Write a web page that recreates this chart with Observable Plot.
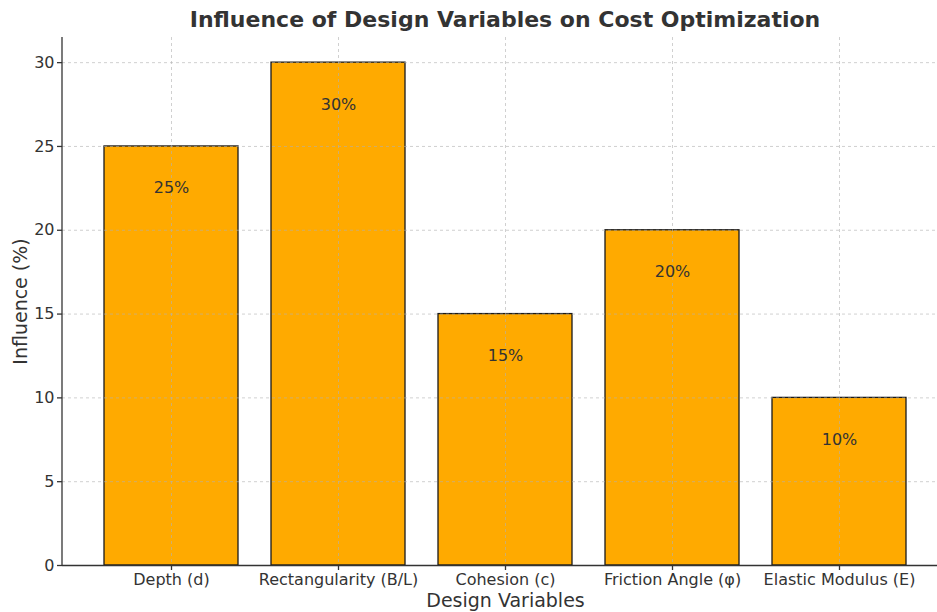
<!DOCTYPE html>
<html>
<head>
<meta charset="utf-8">
<script src="https://cdn.jsdelivr.net/npm/d3@7"></script>
<script src="https://cdn.jsdelivr.net/npm/@observablehq/plot@0.6"></script>
<style>
  html, body { margin: 0; padding: 0; background: #fff; }
  #title { width: 937px; height: 30px; position: relative; font-family: "DejaVu Sans", sans-serif; }
  #title span { position: absolute; left: 0; width: 1010px; text-align: center; top: 9px; font-weight: bold; font-size: 22px; color: #333; white-space: nowrap; line-height: 1; }
  #chart svg { display: block; }
</style>
</head>
<body>
<div id="title"><span>Influence of Design Variables on Cost Optimization</span></div>
<div id="chart"></div>
<script>
const categories = ["Depth (d)", "Rectangularity (B/L)", "Cohesion (c)", "Friction Angle (φ)", "Elastic Modulus (E)"];
const values = [25, 30, 15, 20, 10];
const yTicks = [0, 5, 10, 15, 20, 25, 30];
const xLabel = "Design Variables";
const yLabel = "Influence (%)";

const data = categories.map((c, i) => ({category: c, value: values[i], label: values[i] + "%"}));

const W = 937, H = 582;
const chart = Plot.plot({
  width: W,
  height: H,
  marginLeft: 62,
  marginRight: 0,
  marginTop: 7,
  marginBottom: 47,
  style: {fontFamily: "DejaVu Sans, sans-serif", color: "#333", background: "#fff"},
  x: {type: "band", domain: categories, range: [62, 948], paddingInner: 0.2, paddingOuter: 0.24, align: 0.5},
  y: {domain: [0, 31.5], range: [535, 7]},
  marks: [
    Plot.barY(data, {x: "category", y: "value", fill: "#FFAA00", stroke: "#1a1a1a", strokeWidth: 1.3}),
    Plot.gridY(yTicks, {stroke: "#b0b0b0", strokeOpacity: 0.6, strokeDasharray: "3,3", strokeWidth: 1}),
    Plot.gridX(categories, {stroke: "#b0b0b0", strokeOpacity: 0.6, strokeDasharray: "3,3", strokeWidth: 1}),
    Plot.text(data, {x: "category", y: d => d.value - 2.5, text: "label", fontSize: 16, fill: "#333"}),
    Plot.axisY(yTicks, {tickSize: 5, tickPadding: 3, fontSize: 16, label: null, stroke: "#333", fill: "#333", strokeWidth: 1.3}),
    Plot.axisX(categories, {tickSize: 5, tickPadding: 3, fontSize: 16, label: null, stroke: "#333", fill: "#333", strokeWidth: 1.3}),
    Plot.ruleY([0], {stroke: "#333", strokeWidth: 1.3}),
    Plot.text([yLabel], {frameAnchor: "left", textAnchor: "middle", dx: -42, rotate: -90, fontSize: 19, fill: "#333", text: d => d}),
    Plot.text([xLabel], {frameAnchor: "bottom", textAnchor: "middle", dx: 5.5, dy: 41, fontSize: 19, fill: "#333", text: d => d})
  ]
});
// left spine, from the y scale's extent
const ys = chart.scale("y");
const ySpine = d3.select(chart);
ySpine.append("line")
  .attr("x1", 62).attr("x2", 62)
  .attr("y1", ys.apply(ys.domain[0])).attr("y2", ys.apply(ys.domain[1]))
  .attr("stroke", "#333").attr("stroke-width", 1.3);
document.getElementById("chart").append(chart);
</script>
</body>
</html>
